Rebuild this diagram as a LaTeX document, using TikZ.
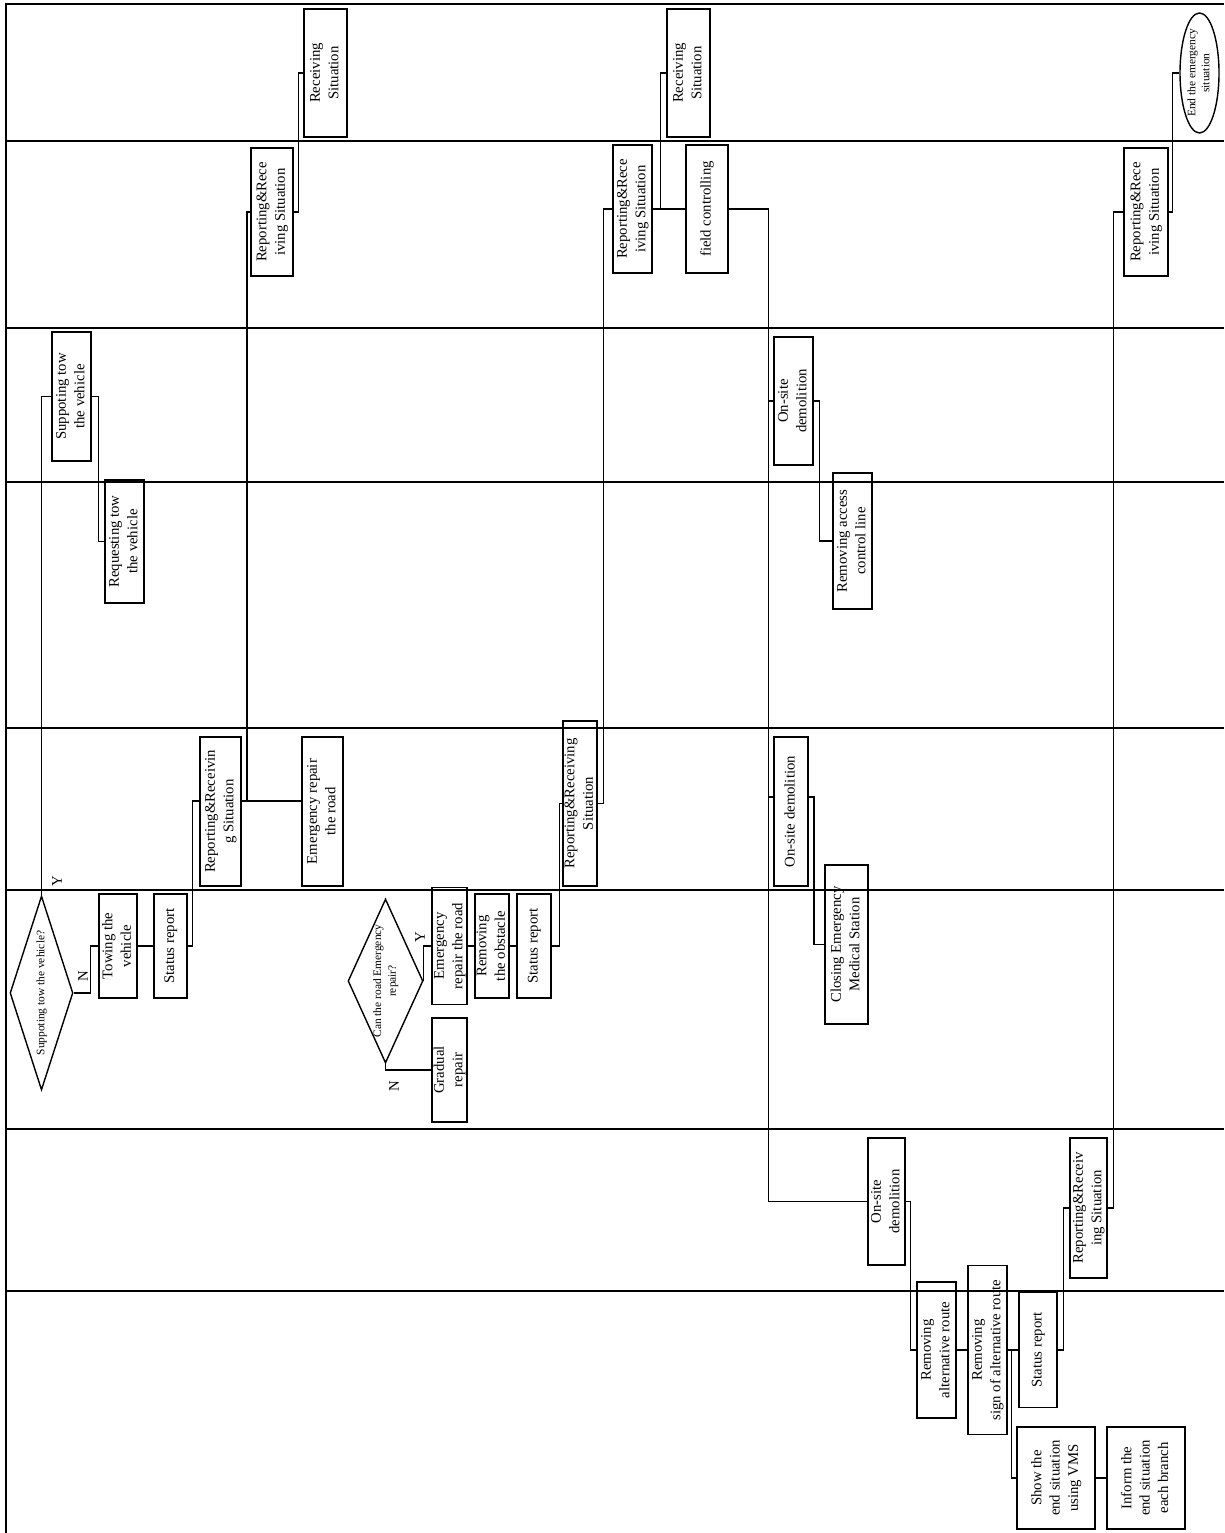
\documentclass[tikz,border=0pt]{standalone}
\usepackage{fontspec}
\setmainfont{Liberation Serif}
\usepackage{graphicx}
\usetikzlibrary{shapes.geometric}

% rotated multi-line text that takes no room in its node
\newcommand{\rottext}[1]{\makebox[0pt]{\raisebox{-.5\height}[0pt][0pt]{\rotatebox{90}{\begin{tabular}{@{}c@{}}#1\end{tabular}}}}}

\begin{document}
\begin{tikzpicture}[x=0.02cm, y=-0.02cm,
    lane/.style={line width=0.95pt},
    flow/.style={line width=0.75pt},
    actbox/.style 2 args={draw, line width=0.8pt, inner sep=0pt,
        minimum width=#1*0.02cm, minimum height=#2*0.02cm,
        font=\fontsize{8.4}{10.5}\selectfont},
    decision/.style 2 args={draw, diamond, line width=0.8pt, inner sep=0pt,
        minimum width=#1*0.02cm, minimum height=#2*0.02cm,
        font=\fontsize{6.5}{8.5}\selectfont},
    terminal/.style 2 args={draw, ellipse, line width=0.8pt, inner sep=0pt,
        minimum width=#1*0.02cm, minimum height=#2*0.02cm,
        font=\fontsize{6.5}{8}\selectfont},
    yn/.style={inner sep=0pt, font=\fontsize{8.4}{10}\selectfont}]
    \useasboundingbox (0,0) rectangle (1224,1533);

    % Swimlanes
    \draw[lane] (6,1533) -- (6,4) -- (1224,4);
    \foreach \ly in {141,328,482,728,890,1129,1291}
        \draw[lane] (6,\ly) -- (1224,\ly);

    % Lane 1
    \node[actbox={43}{128}] (R1) at (325.5,73) {\rottext{Receiving\\Situation}};
    \node[actbox={43}{128}] (R2) at (688.5,73) {\rottext{Receiving\\Situation}};
    \node[terminal={39}{120}] (end) at (1199.5,73) {\rottext{End the emergency\\situation}};

    % Lane 2
    \node[actbox={42}{128}] (A) at (272,212) {\rottext{Reporting\&Rece\\iving Situation}};
    \node[actbox={39}{128}] (B) at (632.5,209) {\rottext{Reporting\&Rece\\iving Situation}};
    \node[actbox={42}{128}] (fc) at (707,209) {\rottext{field controlling}};
    \node[actbox={44}{128}] (C) at (1146,212) {\rottext{Reporting\&Rece\\iving Situation}};

    % Lane 3
    \node[actbox={39}{129}] (supp) at (71.5,396.5) {\rottext{Suppoting tow\\the vehicle}};
    \node[actbox={39}{128}] (os1) at (793.5,401) {\rottext{On-site\\demolition}};

    % Lane 4
    \node[actbox={39}{123}] (req) at (124.5,541.5) {\rottext{Requesting tow\\the vehicle}};
    \node[actbox={39}{136}] (rac) at (852.5,541) {\rottext{Removing access\\control line}};

    % Lane 5
    \node[actbox={41}{149}] (D) at (220.5,811.5) {\rottext{Reporting\&Receivin\\g Situation}};
    \node[actbox={41}{149}] (E) at (322.5,811.5) {\rottext{Emergency repair\\the road}};
    \node[actbox={34}{165}] (F) at (580,803.5) {\rottext{Reporting\&Receiving\\Situation}};
    \node[actbox={34}{149}] (os2) at (791,811.5) {\rottext{On-site demolition}};

    % Lane 6
    \node[decision={63}{194}] (d1) at (41.5,993) {\rottext{Suppoting tow the vehicle?}};
    \node[actbox={38}{104}] (tow) at (118,946) {\rottext{Towing the\\vehicle}};
    \node[actbox={33}{104}] (S1) at (170.5,946) {\rottext{Status report}};
    \node[decision={75}{164}] (d2) at (385.5,981) {\rottext{Can the road Emergency\\repair?}};
    \node[actbox={35}{117}] (er2) at (449.5,946) {\rottext{Emergency\\repair the road}};
    \node[actbox={34}{104}] (obst) at (492,946) {\rottext{Removing\\the obstacle}};
    \node[actbox={34}{104}] (S2) at (534,946) {\rottext{Status report}};
    \node[actbox={35}{104}] (grad) at (449.5,1070) {\rottext{Gradual\\repair}};
    \node[actbox={43}{159}] (cems) at (846.5,944.5) {\rottext{Closing Emergency\\Medical Station}};

    % Lane 7
    \node[actbox={37}{127}] (os3) at (886.5,1201.5) {\rottext{On-site\\demolition}};
    \node[actbox={37}{140}] (G) at (1088.5,1208) {\rottext{Reporting\&Receiv\\ing Situation}};

    % Lane 8
    \node[actbox={39}{136}] (ralt) at (936.5,1350) {\rottext{Removing\\alternative route}};
    \node[actbox={39}{169}] (rsign) at (987.5,1350) {\rottext{Removing\\sign of alternative route}};
    \node[actbox={38}{115}] (S3) at (1038,1350) {\rottext{Status report}};
    \node[actbox={78}{102}] (vms) at (1056,1478) {\rottext{Show the\\end situation\\using VMS}};
    \node[actbox={78}{102}] (inform) at (1146,1478) {\rottext{Inform the\\end situation\\each branch}};

    % Y / N labels
    \node[yn] (y1) at (57,881) {\rotatebox{90}{Y}};
    \node[yn] (n1) at (83,976) {\rotatebox{90}{N}};
    \node[yn] (y2) at (420,937) {\rotatebox{90}{Y}};
    \node[yn] (n2) at (394,1086) {\rotatebox{90}{N}};

    % Connectors
    \coordinate (j5) at (247,801);
    \coordinate (j7) at (814,797);
    \draw[flow] (A.east) -- ++(5,0) |- (R1.west);
    \draw[flow] (A.west) -| (j5);
    \draw[flow] (D.east |- j5) -- (E.west |- j5);
    \draw[flow] (S1.east) -- ++(5,0) |- (D.west |- j5);
    \draw[flow] (tow.east) -- (S1.west);
    \draw[flow] (d1.east) -- ++(17,0) |- (tow.west);
    \draw[flow] (d1.north) |- (supp.west);
    \draw[flow] (supp.east) -- ++(7,0) |- (req.west);
    \draw[flow] (d2.east) |- (er2.west);
    \draw[flow] (d2.south) |- (grad.west);
    \draw[flow] (er2.east) -- (obst.west);
    \draw[flow] (obst.east) -- (S2.west);
    \draw[flow] (S2.east) -- ++(8,0) |- (F.west);
    \draw[flow] (F.east) -- ++(6,0) |- (B.west);
    \draw[flow] (B.east) -- (fc.west);
    \draw[flow] (B.east) ++(8,0) |- (R2.west);
    \draw[flow] (fc.east) -- ++(40,0) coordinate (tk) |- (os3.west);
    \draw[flow] (tk |- os1.west) -- (os1.west);
    \draw[flow] (tk |- j7) -- (os2.west |- j7);
    \draw[flow] (os2.east |- j7) -| (j7) |- (cems.west);
    \draw[flow] (os1.east) -- ++(6,0) |- (rac.west);
    \draw[flow] (os3.east) -- ++(5,0) |- (ralt.west);
    \draw[flow] (ralt.east) -- (rsign.west);
    \draw[flow] (rsign.east) -- (S3.west);
    \draw[flow] (rsign.east) ++(4,0) |- (vms.west);
    \draw[flow] (vms.east) -- (inform.west);
    \draw[flow] (S3.east) -- ++(6,0) |- (G.west);
    \draw[flow] (G.east) -- ++(6,0) |- (C.west);
    \draw[flow] (C.east) -- ++(4,0) |- (end.west);
\end{tikzpicture}
\end{document}
